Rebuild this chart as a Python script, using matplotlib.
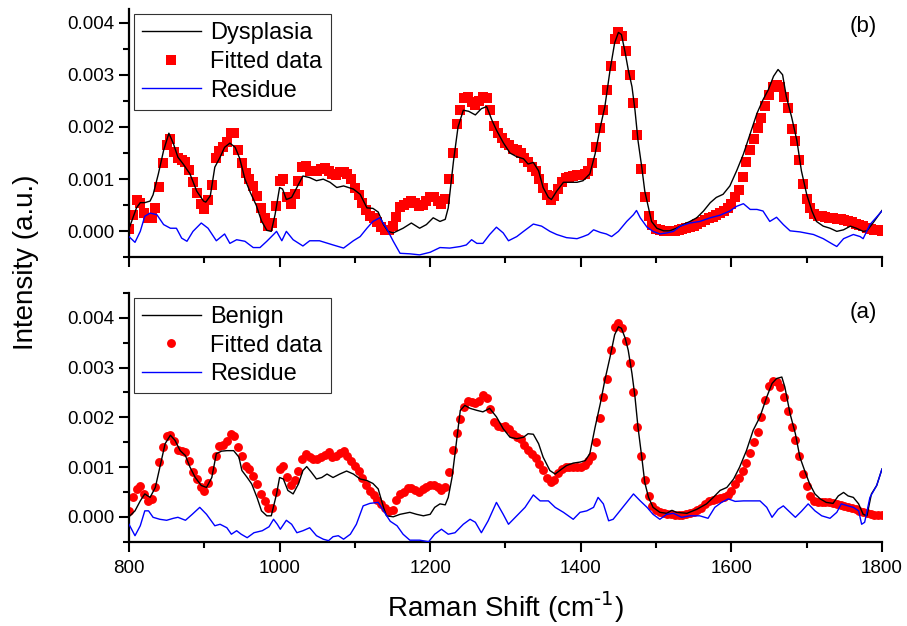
import numpy as np
import matplotlib
matplotlib.use('Agg')
import matplotlib.pyplot as plt
from matplotlib.ticker import MultipleLocator, FormatStrFormatter

plt.rcParams['font.family'] = ['Liberation Sans', 'DejaVu Sans']
plt.rcParams['mathtext.default'] = 'regular'

SCALE = 1e-3  # values below are in units of 0.001 a.u.

# ---------------- fitted data (markers), every 5 cm-1 ----------------
fit_x = np.arange(800, 1801, 5)

dys_fit = [
    0.05, 0.32, 0.60, 0.55, 0.35, 0.25, 0.26, 0.45, 0.85, 1.30,
    1.65, 1.77, 1.52, 1.40, 1.36, 1.32, 1.17, 0.94, 0.74, 0.52,
    0.43, 0.60, 0.88, 1.40, 1.53, 1.61, 1.71, 1.88, 1.88, 1.55,
    1.30, 1.12, 1.00, 0.86, 0.68, 0.44, 0.26, 0.10, 0.16, 0.48,
    0.97, 1.00, 0.65, 0.52, 0.71, 0.97, 1.24, 1.26, 1.16, 1.15,
    1.16, 1.20, 1.22, 1.15, 1.10, 1.07, 1.13, 1.13, 1.10, 1.00,
    0.84, 0.70, 0.55, 0.40, 0.29, 0.25, 0.18, 0.09, 0.03, 0.02,
    0.10, 0.28, 0.46, 0.50, 0.55, 0.58, 0.55, 0.49, 0.50, 0.58,
    0.65, 0.66, 0.58, 0.53, 0.62, 1.00, 1.50, 2.06, 2.32, 2.56,
    2.58, 2.47, 2.42, 2.50, 2.58, 2.56, 2.32, 2.02, 1.88, 1.78,
    1.70, 1.65, 1.58, 1.55, 1.50, 1.41, 1.32, 1.24, 1.16, 1.00,
    0.84, 0.70, 0.61, 0.67, 0.82, 0.94, 1.02, 1.05, 1.06, 1.07,
    1.08, 1.09, 1.15, 1.30, 1.62, 1.98, 2.33, 2.70, 3.17, 3.68,
    3.81, 3.75, 3.45, 3.00, 2.45, 1.85, 1.20, 0.65, 0.30, 0.12,
    0.05, 0.02, 0.00, 0.00, 0.00, 0.01, 0.02, 0.04, 0.06, 0.08,
    0.11, 0.14, 0.17, 0.21, 0.25, 0.28, 0.32, 0.35, 0.39, 0.44,
    0.53, 0.66, 0.80, 1.05, 1.32, 1.56, 1.77, 1.98, 2.18, 2.40,
    2.62, 2.76, 2.81, 2.77, 2.58, 2.36, 1.97, 1.74, 1.37, 0.90,
    0.62, 0.45, 0.34, 0.30, 0.29, 0.28, 0.26, 0.25, 0.24, 0.23,
    0.21, 0.19, 0.17, 0.15, 0.13, 0.10, 0.07, 0.05, 0.03, 0.02,
    0.01,
]

ben_fit = [
    0.12, 0.40, 0.56, 0.61, 0.46, 0.31, 0.36, 0.59, 1.10, 1.40,
    1.62, 1.65, 1.53, 1.35, 1.33, 1.30, 1.13, 0.90, 0.76, 0.60,
    0.52, 0.68, 0.95, 1.23, 1.43, 1.44, 1.52, 1.67, 1.62, 1.40,
    1.23, 1.03, 0.96, 0.82, 0.66, 0.46, 0.32, 0.18, 0.18, 0.50,
    0.96, 1.02, 0.80, 0.63, 0.73, 0.93, 1.16, 1.27, 1.20, 1.17,
    1.17, 1.21, 1.25, 1.30, 1.21, 1.23, 1.29, 1.33, 1.22, 1.12,
    1.02, 0.93, 0.79, 0.64, 0.52, 0.44, 0.34, 0.25, 0.17, 0.12,
    0.14, 0.33, 0.45, 0.50, 0.58, 0.58, 0.54, 0.50, 0.55, 0.60,
    0.63, 0.63, 0.60, 0.53, 0.59, 0.90, 1.35, 1.68, 1.96, 2.20,
    2.32, 2.30, 2.29, 2.33, 2.44, 2.38, 2.17, 1.90, 1.82, 1.80,
    1.83, 1.77, 1.67, 1.60, 1.56, 1.45, 1.34, 1.27, 1.18, 1.07,
    0.94, 0.79, 0.70, 0.74, 0.88, 0.96, 1.00, 1.00, 1.00, 1.00,
    1.01, 1.05, 1.12, 1.23, 1.50, 1.98, 2.40, 2.78, 3.35, 3.82,
    3.89, 3.80, 3.53, 3.10, 2.50, 1.80, 1.22, 0.73, 0.42, 0.22,
    0.13, 0.09, 0.07, 0.05, 0.05, 0.04, 0.04, 0.04, 0.05, 0.07,
    0.10, 0.13, 0.18, 0.26, 0.31, 0.34, 0.36, 0.38, 0.40, 0.44,
    0.52, 0.65, 0.79, 0.93, 1.08, 1.28, 1.50, 1.70, 2.00, 2.35,
    2.63, 2.74, 2.71, 2.60, 2.40, 2.12, 1.80, 1.54, 1.22, 0.87,
    0.62, 0.42, 0.32, 0.30, 0.30, 0.30, 0.30, 0.28, 0.26, 0.24,
    0.22, 0.20, 0.18, 0.15, 0.12, 0.10, 0.07, 0.05, 0.04, 0.03,
    0.03,
]

# ---------------- measured spectra (lines) ----------------
dys_x = [800, 810, 815, 821, 828, 832, 839, 846, 853, 859, 865, 872, 881, 890, 899,
         902, 908, 914, 921, 927, 934, 941, 947, 954, 961, 969, 976, 983, 989, 994,
         1000, 1004, 1009, 1016, 1023, 1031, 1040, 1049, 1058, 1067, 1076, 1085, 1098, 1107, 1116,
         1124, 1131, 1138, 1144, 1151, 1164, 1175, 1186, 1195, 1204, 1213, 1220, 1224, 1231, 1237,
         1244, 1251, 1260, 1268, 1275, 1282, 1288, 1297, 1306, 1315, 1324, 1330, 1337, 1344, 1350,
         1357, 1361, 1368, 1377, 1386, 1395, 1403, 1412, 1419, 1426, 1432, 1439, 1445, 1450, 1454,
         1459, 1463, 1468, 1472, 1476, 1481, 1485, 1490, 1494, 1501, 1510, 1518, 1527, 1536, 1545,
         1554, 1563, 1572, 1580, 1589, 1598, 1607, 1616, 1625, 1634, 1642, 1649, 1656, 1662, 1668,
         1673, 1680, 1687, 1693, 1700, 1707, 1713, 1722, 1731, 1740, 1749, 1758, 1766, 1775, 1780,
         1788, 1800]
dys_y = [0.05, 0.45, 0.55, 0.55, 0.58, 0.70, 1.10, 1.55, 1.88, 1.68, 1.42, 1.29, 1.10, 0.77, 0.58,
         0.56, 0.68, 1.23, 1.42, 1.61, 1.69, 1.61, 1.40, 1.00, 0.75, 0.50, 0.20, 0.02, 0.00, 0.32,
         0.84, 0.81, 0.61, 0.65, 0.84, 1.06, 1.03, 0.97, 1.00, 0.94, 0.84, 0.87, 0.81, 0.71, 0.45,
         0.44, 0.37, 0.13, 0.00, -0.03, 0.06, 0.16, 0.06, 0.13, 0.26, 0.19, 0.23, 0.45, 1.35, 2.00,
         2.32, 2.30, 2.23, 2.35, 2.39, 2.13, 1.94, 1.70, 1.50, 1.43, 1.39, 1.29, 1.32, 1.16, 0.84,
         0.65, 0.61, 0.77, 0.94, 0.94, 0.94, 0.97, 1.10, 1.48, 2.00, 2.39, 3.10, 3.61, 3.81, 3.77,
         3.42, 3.10, 2.77, 2.32, 1.74, 1.23, 0.77, 0.45, 0.19, 0.06, 0.01, 0.01, 0.06, 0.13, 0.19,
         0.26, 0.39, 0.55, 0.65, 0.71, 0.87, 1.16, 1.48, 1.87, 2.26, 2.52, 2.71, 2.97, 3.10, 3.00,
         2.58, 2.19, 1.74, 1.16, 0.71, 0.39, 0.19, 0.10, 0.06, 0.00, 0.03, 0.10, 0.06, 0.00, 0.01,
         0.16, 0.40]

ben_x = [800, 808, 815, 821, 828, 835, 841, 848, 855, 861, 868, 875, 881, 888, 896,
         903, 910, 916, 923, 930, 939, 946, 950, 957, 963, 970, 976, 983, 989, 996,
         1000, 1005, 1011, 1018, 1025, 1031, 1036, 1042, 1049, 1056, 1063, 1071, 1080, 1089, 1098,
         1107, 1116, 1124, 1131, 1138, 1142, 1151, 1160, 1173, 1182, 1191, 1200, 1206, 1213, 1220,
         1224, 1229, 1233, 1240, 1246, 1253, 1262, 1270, 1279, 1288, 1297, 1306, 1315, 1324, 1330,
         1337, 1344, 1350, 1359, 1366, 1372, 1381, 1390, 1399, 1406, 1412, 1419, 1426, 1432, 1439,
         1445, 1450, 1454, 1459, 1463, 1468, 1472, 1476, 1481, 1485, 1490, 1496, 1505, 1514, 1521,
         1527, 1541, 1554, 1567, 1576, 1585, 1594, 1603, 1611, 1620, 1629, 1638, 1647, 1654, 1660,
         1667, 1671, 1678, 1685, 1691, 1698, 1704, 1711, 1718, 1726, 1735, 1742, 1749, 1755, 1762,
         1769, 1775, 1780, 1786, 1793, 1800]
ben_y = [0.00, 0.12, 0.32, 0.46, 0.39, 0.59, 1.00, 1.47, 1.64, 1.54, 1.33, 1.23, 1.00, 0.79, 0.63,
         0.59, 0.79, 1.27, 1.32, 1.33, 1.33, 1.20, 0.93, 0.79, 0.66, 0.39, 0.12, 0.02, 0.02, 0.46,
         0.79, 0.76, 0.53, 0.46, 0.66, 0.93, 1.01, 0.90, 0.76, 0.79, 0.86, 0.79, 0.86, 0.92, 0.86,
         0.76, 0.73, 0.67, 0.56, 0.19, 0.02, 0.00, 0.05, 0.09, 0.05, 0.02, 0.05, 0.19, 0.26, 0.24,
         0.39, 0.79, 1.27, 2.14, 2.24, 2.18, 2.14, 2.11, 2.18, 2.01, 1.77, 1.60, 1.57, 1.60, 1.67,
         1.66, 1.47, 1.20, 0.93, 0.86, 0.93, 1.03, 1.08, 1.10, 1.13, 1.27, 1.80, 2.28, 2.75, 3.22,
         3.66, 3.82, 3.79, 3.59, 3.35, 2.88, 2.41, 1.80, 1.20, 0.69, 0.39, 0.19, 0.09, 0.07, 0.13,
         0.09, 0.07, 0.15, 0.26, 0.39, 0.53, 0.59, 0.76, 1.00, 1.33, 1.74, 2.01, 2.41, 2.68, 2.78,
         2.81, 2.61, 2.07, 1.67, 1.20, 0.90, 0.66, 0.46, 0.36, 0.29, 0.27, 0.42, 0.49, 0.42, 0.39,
         0.26, 0.05, 0.02, 0.46, 0.63, 0.96]

# ---------------- residues ----------------
dys_res_x = [800, 808, 815, 821, 828, 837, 846, 855, 863, 870, 877, 885, 896, 905, 916,
             927, 934, 943, 954, 965, 974, 983, 992, 996, 1003, 1009, 1018, 1031, 1040, 1053,
             1071, 1085, 1098, 1107, 1116, 1124, 1133, 1142, 1151, 1160, 1173, 1186, 1200, 1213, 1226,
             1240, 1248, 1255, 1262, 1270, 1279, 1288, 1297, 1304, 1315, 1324, 1337, 1348, 1359, 1368,
             1381, 1395, 1403, 1410, 1417, 1426, 1434, 1441, 1450, 1461, 1470, 1474, 1479, 1488, 1496,
             1505, 1514, 1523, 1532, 1545, 1558, 1572, 1585, 1598, 1607, 1616, 1625, 1634, 1642, 1651,
             1660, 1669, 1678, 1691, 1709, 1722, 1735, 1740, 1749, 1762, 1771, 1775, 1784, 1800]
dys_res_y = [-0.10, -0.21, 0.00, 0.29, 0.35, 0.32, 0.13, 0.06, 0.06, -0.13, -0.19, 0.00, 0.16, 0.06, -0.18,
             -0.05, -0.23, -0.16, -0.19, -0.31, -0.31, -0.19, -0.06, 0.00, -0.18, 0.00, -0.16, -0.28, -0.18, -0.18,
             -0.26, -0.32, -0.18, -0.10, 0.06, 0.19, 0.26, 0.06, -0.19, -0.42, -0.43, -0.45, -0.40, -0.31, -0.32,
             -0.29, -0.26, -0.16, -0.23, -0.23, -0.06, 0.08, -0.03, -0.18, -0.10, 0.00, 0.14, 0.10, 0.00, -0.06,
             -0.12, -0.14, -0.10, -0.06, 0.03, -0.02, -0.05, -0.10, 0.00, 0.19, 0.32, 0.40, 0.26, 0.08, 0.00,
             -0.05, -0.03, 0.00, 0.10, 0.16, 0.19, 0.26, 0.31, 0.39, 0.48, 0.53, 0.42, 0.42, 0.39, 0.19,
             0.27, 0.13, 0.01, -0.01, -0.06, -0.14, -0.25, -0.29, -0.14, -0.06, -0.10, -0.14, 0.13, 0.39]

ben_res_x = [800, 808, 815, 821, 826, 832, 841, 850, 859, 865, 875, 884, 894, 903, 914,
             921, 930, 936, 943, 949, 957, 966, 977, 986, 992, 997, 1001, 1009, 1016, 1023,
             1031, 1040, 1049, 1058, 1065, 1071, 1078, 1085, 1094, 1102, 1111, 1120, 1131, 1138, 1147,
             1156, 1164, 1173, 1186, 1198, 1206, 1215, 1224, 1233, 1244, 1253, 1260, 1268, 1277, 1288,
             1297, 1304, 1315, 1326, 1337, 1346, 1357, 1366, 1377, 1390, 1399, 1408, 1417, 1423, 1430,
             1437, 1443, 1452, 1461, 1470, 1479, 1488, 1496, 1505, 1514, 1523, 1534, 1545, 1558, 1569,
             1578, 1587, 1596, 1605, 1616, 1627, 1638, 1647, 1654, 1662, 1669, 1678, 1685, 1693, 1702,
             1711, 1720, 1731, 1740, 1746, 1755, 1762, 1769, 1773, 1777, 1784, 1793, 1800]
ben_res_y = [-0.15, -0.38, -0.18, 0.12, 0.12, -0.01, -0.05, -0.07, -0.03, -0.01, -0.07, 0.05, 0.19, 0.05, -0.18,
             -0.15, -0.22, -0.35, -0.28, -0.35, -0.42, -0.32, -0.28, -0.20, -0.05, -0.15, -0.25, -0.07, -0.15, -0.32,
             -0.28, -0.22, -0.38, -0.45, -0.48, -0.40, -0.38, -0.45, -0.35, -0.15, 0.22, 0.27, 0.29, 0.12, -0.09,
             -0.18, -0.35, -0.47, -0.47, -0.50, -0.35, -0.25, -0.35, -0.32, -0.15, -0.05, -0.11, -0.32, -0.08, 0.29,
             0.05, -0.15, 0.02, 0.19, 0.44, 0.32, 0.32, 0.19, 0.09, -0.05, 0.09, 0.12, 0.19, 0.39, 0.26,
             -0.08, -0.05, 0.12, 0.29, 0.46, 0.32, 0.19, 0.05, -0.05, 0.05, 0.07, -0.01, 0.02, 0.02, -0.03,
             0.19, 0.29, 0.36, 0.31, 0.32, 0.32, 0.32, 0.19, -0.01, 0.15, 0.22, 0.09, -0.01, 0.11, 0.26,
             0.12, 0.02, -0.03, 0.09, 0.26, 0.22, 0.19, 0.12, -0.15, -0.11, 0.39, 0.63, 0.96]

panel_labels = ['(b)', '(a)']
legend_names = [['Dysplasia', 'Fitted data', 'Residue'],
                ['Benign', 'Fitted data', 'Residue']]
xticks = [800, 1000, 1200, 1400, 1600, 1800]

def s(v):
    return np.asarray(v, dtype=float) * SCALE

fig = plt.figure(figsize=(9.07, 6.26), dpi=100)
ax_b = fig.add_axes([0.1422, 0.5887, 0.8302, 0.3962])
ax_a = fig.add_axes([0.1422, 0.1347, 0.8302, 0.3973])

panels = [
    (ax_b, dys_x, dys_y, dys_fit, dys_res_x, dys_res_y, 's', 6.6, 0.00425, False, 0.93),
    (ax_a, ben_x, ben_y, ben_fit, ben_res_x, ben_res_y, 'o', 6.4, 0.0045, True, 0.922),
]

for i, (ax, lx, ly, fy, rx, ry, mk, msz, ymax, showx, ly_lab) in enumerate(panels):
    hf, = ax.plot(fit_x, s(fy), linestyle='none', marker=mk, ms=msz,
                  color='#ff0000', mec='#ff0000', mew=0, zorder=2)
    hl, = ax.plot(lx, s(ly), color='black', lw=1.0, zorder=3)
    hr, = ax.plot(rx, s(ry), color='#0000ff', lw=1.0, zorder=4)

    ax.set_xlim(800, 1800)
    ax.set_ylim(-0.0005, ymax)
    for side in ['top', 'right']:
        ax.spines[side].set_visible(False)
    for side in ['left', 'bottom']:
        ax.spines[side].set_linewidth(1.6)
    ax.set_xticks(xticks)
    ax.xaxis.set_minor_locator(MultipleLocator(100))
    ax.yaxis.set_major_locator(MultipleLocator(0.001))
    ax.yaxis.set_minor_locator(MultipleLocator(0.0005))
    ax.yaxis.set_major_formatter(FormatStrFormatter('%.3f'))
    ax.tick_params(which='major', direction='out', length=7.5, width=1.5,
                   labelsize=13.5, colors='black')
    ax.tick_params(which='minor', direction='out', length=4, width=1.5)
    ax.tick_params(axis='y', pad=3)
    ax.tick_params(axis='x', pad=6, labelbottom=showx)

    leg = ax.legend([hl, hf, hr], legend_names[i], loc='upper left',
                    fontsize=17, frameon=True, fancybox=False, shadow=False,
                    numpoints=1, handlelength=2.5, handletextpad=0.4,
                    labelspacing=0.28, borderpad=0.35, borderaxespad=0.2,
                    markerscale=1.0)
    leg.get_frame().set_edgecolor('black')
    leg.get_frame().set_linewidth(0.8)
    ax.text(0.975, ly_lab, panel_labels[i], transform=ax.transAxes,
            ha='center', va='center', fontsize=16)

fig.text(0.557, 0.029, r'Raman Shift (cm$^{\text{-1}}$)', ha='center', va='center',
         fontsize=20)
fig.text(0.029, 1 - 262 / 626, 'Intensity (a.u.)', ha='center', va='center',
         rotation=90, fontsize=20)

fig.savefig('out.png', dpi=100)
